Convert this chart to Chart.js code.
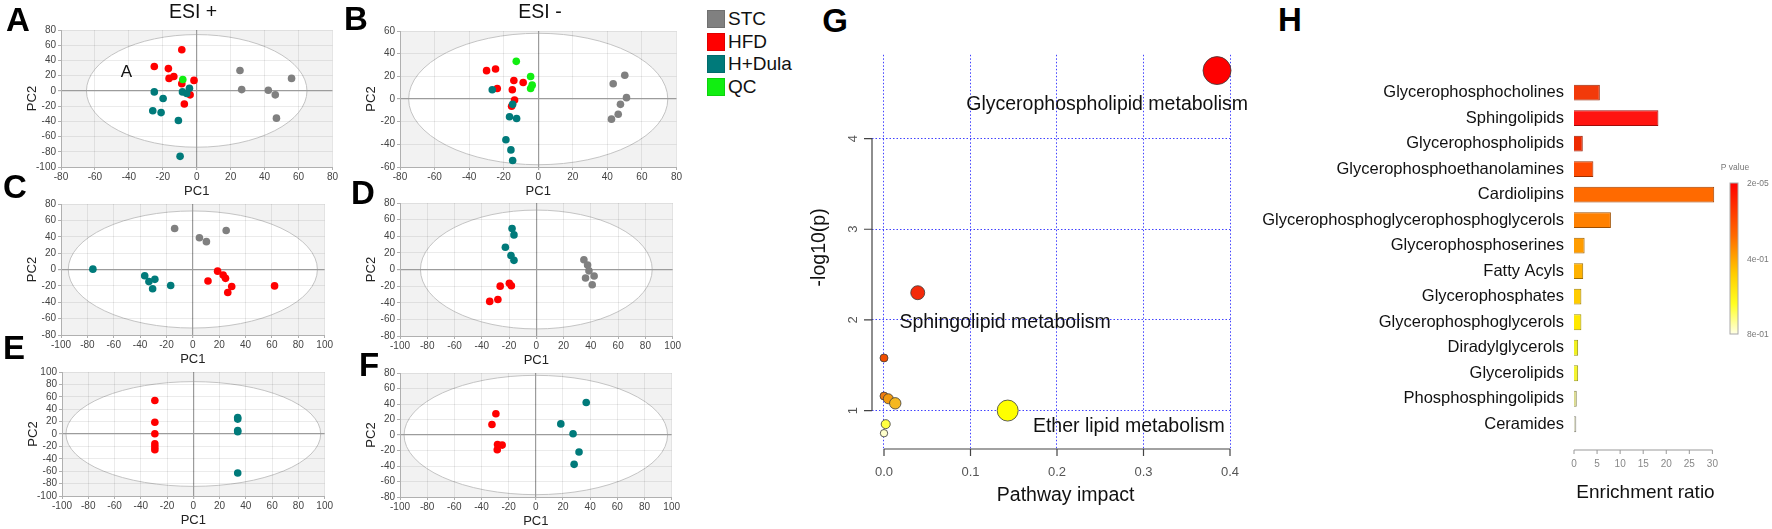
<!DOCTYPE html>
<html>
<head>
<meta charset="utf-8">
<script src="https://cdn.jsdelivr.net/npm/chart.js@4.4.1/dist/chart.umd.min.js"></script>
<style>
  body { margin: 0; background: #fff; width: 1772px; height: 529px; overflow: hidden; position: relative;
         font-family: "Liberation Sans", Arial, sans-serif; color: #111; }
  .t { position: absolute; transform: translate(-50%, -50%); line-height: 1; white-space: nowrap; }
  .letter { font-weight: bold; font-size: 33px; color: #000; }
  .leg { position: absolute; left: 707px; height: 18px; font-size: 19px; line-height: 18px; white-space: nowrap; }
  .leg span { display: inline-block; width: 18px; height: 18px; vertical-align: top; margin-right: 3px;
              box-shadow: inset 0 0 0 1px rgba(0,0,0,0.12); }
</style>
</head>
<body>
<script>
Chart.defaults.font.family = '"Liberation Sans", Arial, sans-serif';

// groups and colours (legend)
const groups = ["STC", "HFD", "H+Dula", "QC"];
const groupColors = ["#808080", "#ff0000", "#007a7a", "#11ee11"];

// A  ESI+  (PC1, PC2)
const aSTC  = [[25.5, 26.8], [26.5, 1.7], [42.2, 0.9], [46.3, -5.2], [47, -35.8], [55.9, 16.4]];
const aHFD  = [[-8.8, 54], [-25, 32], [-16.7, 29.3], [-16.3, 16.4], [-13.5, 19], [-8.8, 9.5], [-1.6, 13.8], [-3.9, -5.2], [-7.3, -17.3]];
const aDula = [[-25, -1.3], [-19.8, -10], [-25.9, -26], [-21, -28.5], [-10.8, -39], [-9.8, -86], [-8.4, -1.3], [-5.9, -3.5], [-4.3, 3.5]];
const aQC   = [[-8.2, 15]];
// B  ESI-
const bSTC  = [[50.1, 21], [43.4, 13.4], [51.1, 1.2], [47.6, -4.7], [46.3, -13.4], [42.4, -17.8]];
const bHFD  = [[-29.9, 25], [-24.7, 26.5], [-23.7, 9.3], [-14.1, 16.3], [-15, 8.2], [-8.7, 14.6], [-13.7, -0.9], [-15.4, -6.4]];
const bDula = [[-26.6, 8.2], [-14.8, -4.7], [-16.6, -15.7], [-12.5, -17.2], [-18.7, -35.9], [-15.8, -44.9], [-14.8, -54.2]];
const bQC   = [[-12.7, 33.2], [-4.4, 19.8], [-3.5, 12.2], [-4.4, 9.3]];
// C
const cSTC  = [[-13.8, 50], [5, 38.8], [10.3, 34], [25.3, 47.6]];
const cHFD  = [[11.5, -14], [18.8, -2], [23, -6.8], [24.8, -10.8], [29.5, -20.8], [26.5, -28], [62, -20]];
const cDula = [[-75.8, 0.4], [-36.5, -7.6], [-33.3, -14.8], [-28.8, -12], [-30.5, -23.6], [-16.8, -19.6]];
// D
const dSTC  = [[34.9, 11.8], [37.6, 5.5], [38.6, -1.6], [36.1, -10.2], [42.4, -7.8], [41, -18.4]];
const dHFD  = [[-26.5, -20], [-19.8, -16.5], [-18.3, -19.6], [-28.2, -36], [-34.2, -38.4]];
const dDula = [[-17.8, 49.4], [-16.4, 41.6], [-22.7, 26.7], [-18.6, 16.9], [-16.4, 11]];
// E
const eHFD  = [[-29.3, 54], [-29.3, 19], [-29.3, 0.5], [-29.3, -16], [-29.3, -21], [-29.3, -25.5]];
const eDula = [[33.8, 26.5], [33.8, 24], [33.8, 5.5], [33.8, 3.7], [33.8, -63]];
// F
const fHFD  = [[-29.4, 27.4], [-32.3, 13.5], [-28.2, -12.2], [-24.8, -13], [-28.4, -19]];
const fDula = [[37.1, 42], [18.4, 14.3], [27.4, 1.7], [31.8, -21.9], [28.2, -37.9]];

// axis ranges and Hotelling ellipse half-axes (PC1, PC2)
const aXRange = [-80, 80],   aYRange = [-100, 80], ellA = [65, 74];
const bXRange = [-80, 80],   bYRange = [-60, 60],  ellB = [75, 58];
const cXRange = [-100, 100], cYRange = [-80, 80],  ellC = [94.5, 71.5];
const dXRange = [-100, 100], dYRange = [-80, 80],  ellD = [85, 71.5];
const eXRange = [-100, 100], eYRange = [-100, 100], ellE = [97, 84.5];
const fXRange = [-100, 100], fYRange = [-80, 80],  ellF = [97, 77];

// G  pathway analysis
const gPathways = ["Glycerophospholipid metabolism", "Sphingolipid metabolism", "", "", "", "", "Ether lipid metabolism", "", ""];
const gImpact = [0.385, 0.039, 0.0, 0.0, 0.005, 0.013, 0.143, 0.002, 0.0];
const gLogP   = [4.75, 2.30, 1.58, 1.16, 1.13, 1.08, 1.00, 0.85, 0.75];
const gRadius = [14, 7, 4, 4, 5, 5.7, 10.5, 4.5, 3.7];
const gXTicks = [0, 0.1, 0.2, 0.3, 0.4];
const gYTicks = [1, 2, 3, 4];

// H  enrichment
const hClasses = ["Glycerophosphocholines", "Sphingolipids", "Glycerophospholipids", "Glycerophosphoethanolamines",
  "Cardiolipins", "Glycerophosphoglycerophosphoglycerols", "Glycerophosphoserines", "Fatty Acyls",
  "Glycerophosphates", "Glycerophosphoglycerols", "Diradylglycerols", "Glycerolipids",
  "Phosphosphingolipids", "Ceramides"];
const hRatio = [5.6, 18.3, 1.9, 4.2, 30.4, 8.0, 2.3, 2.0, 1.6, 1.6, 0.9, 0.9, 0.6, 0.5];
const hTicks = [0, 5, 10, 15, 20, 25, 30];
const pTicks = ["2e-05", "4e-01", "8e-01"];

// colours standing for p values
const gColors = ["#ff0000", "#f42a0a", "#f04d00", "#ee7a10", "#f29a10", "#f5b820", "#ffff00", "#ffff40", "#ffffcc"];
const hColors = ["#f23a0a", "#ff1410", "#ee2a00", "#ff4a00", "#ff6a00", "#ff8000", "#ff9c00", "#ffb200",
  "#ffcc00", "#ffe800", "#f0f020", "#f4f430", "#d9d98a", "#dcdcc8"];

function darken(hex, f) {
  const n = parseInt(hex.slice(1), 16);
  return `rgb(${Math.round((n >> 16) * f)},${Math.round(((n >> 8) & 255) * f)},${Math.round((n & 255) * f)})`;
}

function addCanvas(left, top, w, h) {
  const c = document.createElement("canvas");
  c.width = w; c.height = h;
  c.style.cssText = `position:absolute;left:${left}px;top:${top}px;width:${w}px;height:${h}px`;
  document.body.appendChild(c);
  return c;
}

function addText(txt, x, y, cls, css) {
  const d = document.createElement("div");
  d.className = "t " + (cls || "");
  d.textContent = txt;
  d.style.cssText = `left:${x}px;top:${y}px;` + (css || "");
  document.body.appendChild(d);
}

// grey score-plot background with white ellipse
const ellipsePlugin = {
  id: "ellipse",
  beforeDraw(chart, args, opts) {
    const { ctx, chartArea: a, scales: { x, y } } = chart;
    ctx.save();
    ctx.fillStyle = "#f2f2f2";
    ctx.fillRect(a.left, a.top, a.width, a.height);
    ctx.beginPath(); ctx.rect(a.left, a.top, a.width, a.height); ctx.clip();
    const cx = x.getPixelForValue(0), cy = y.getPixelForValue(0);
    const rx = Math.abs(x.getPixelForValue(opts.rx) - cx);
    const ry = Math.abs(y.getPixelForValue(opts.ry) - cy);
    ctx.beginPath(); ctx.ellipse(cx, cy, rx, ry, 0, 0, Math.PI * 2);
    ctx.fillStyle = "#fff"; ctx.fill();
    ctx.strokeStyle = "#c4c4c4"; ctx.lineWidth = 1; ctx.stroke();
    ctx.restore();
  }
};

function pcaChart(rect, xr, yr, ell, sets) {
  const [L, T, R, B] = rect;
  const cv = addCanvas(L - 36, T - 6, R - L + 42, B - T + 38);
  // first dataset is painted last, so put the top layer first
  const ds = sets.slice().reverse().map(([pts, g]) => ({
    label: groups[g],
    data: pts.map(p => ({ x: p[0], y: p[1] })),
    backgroundColor: groupColors[g], borderWidth: 0, pointRadius: 3.8, pointHoverRadius: 3.8
  }));
  const axis = (range, title, isX) => ({
    type: "linear", min: range[0], max: range[1],
    ticks: { stepSize: 20, font: { size: 10 }, color: "#444", padding: isX ? 1 : 2, maxRotation: 0, autoSkip: false },
    grid: { color: c => c.tick && c.tick.value === 0 ? "#9c9c9c" : "rgba(0,0,0,0.08)",
            lineWidth: c => c.tick && c.tick.value === 0 ? 1.2 : 1, tickLength: 3, tickColor: "#b0b0b0" },
    border: { color: "#b0b0b0" },
    title: { display: true, text: title, font: { size: 13 }, color: "#222", padding: 0 },
    afterFit: s => { if (isX) s.height = 32; else s.width = 36; }
  });
  new Chart(cv, {
    type: "scatter",
    data: { datasets: ds },
    options: {
      responsive: false, animation: false, events: [],
      layout: { padding: { top: 6, right: 6, left: 0, bottom: 0 } },
      plugins: { legend: { display: false }, tooltip: { enabled: false }, ellipse: { rx: ell[0], ry: ell[1] } },
      scales: { x: axis(xr, "PC1", true), y: axis(yr, "PC2", false) }
    },
    plugins: [ellipsePlugin]
  });
}

pcaChart([61, 28, 333, 167], aXRange, aYRange, ellA, [[aSTC, 0], [aHFD, 1], [aDula, 2], [aQC, 3]]);
pcaChart([400, 29, 677, 167], bXRange, bYRange, ellB, [[bSTC, 0], [bHFD, 1], [bDula, 2], [bQC, 3]]);
pcaChart([61, 202, 328, 335], cXRange, cYRange, ellC, [[cSTC, 0], [cHFD, 1], [cDula, 2]]);
pcaChart([400, 201, 676, 336], dXRange, dYRange, ellD, [[dSTC, 0], [dHFD, 1], [dDula, 2]]);
pcaChart([62, 370, 328, 496], eXRange, eYRange, ellE, [[eHFD, 1], [eDula, 2]]);
pcaChart([400, 371, 675, 497], fXRange, fYRange, ellF, [[fHFD, 1], [fDula, 2]]);

// legend
groups.forEach((g, i) => {
  const d = document.createElement("div");
  d.className = "leg";
  d.style.top = (10 + i * 22.7) + "px";
  d.innerHTML = `<span style="background:${groupColors[i]}"></span>${g}`;
  document.body.appendChild(d);
});

// G : R-style axes, labels
const gAxesPlugin = {
  id: "gAxes",
  afterDraw(chart) {
    const { ctx, chartArea: a, scales: { x, y } } = chart;
    ctx.save();
    ctx.strokeStyle = "#444"; ctx.lineWidth = 1.2;
    const yb = a.bottom, xl = a.left;
    ctx.beginPath();
    ctx.moveTo(x.getPixelForValue(gXTicks[0]), yb);
    ctx.lineTo(x.getPixelForValue(gXTicks[gXTicks.length - 1]), yb);
    gXTicks.forEach(v => { const px = x.getPixelForValue(v); ctx.moveTo(px, yb); ctx.lineTo(px, yb + 7); });
    ctx.moveTo(xl, y.getPixelForValue(gYTicks[0]));
    ctx.lineTo(xl, y.getPixelForValue(gYTicks[gYTicks.length - 1]));
    gYTicks.forEach(v => { const py = y.getPixelForValue(v); ctx.moveTo(xl, py); ctx.lineTo(xl - 8, py); });
    ctx.stroke();

    ctx.fillStyle = "#555"; ctx.font = '13px "Liberation Sans", Arial';
    ctx.textAlign = "center"; ctx.textBaseline = "middle";
    gXTicks.forEach(v => ctx.fillText(v.toFixed(1), x.getPixelForValue(v), yb + 23));
    gYTicks.forEach(v => {
      ctx.save(); ctx.translate(xl - 19, y.getPixelForValue(v)); ctx.rotate(-Math.PI / 2);
      ctx.fillText(String(v), 0, 0); ctx.restore();
    });

    ctx.fillStyle = "#111"; ctx.font = '19.5px "Liberation Sans", Arial';
    ctx.fillText("Pathway impact", x.getPixelForValue(0.21), yb + 47);
    ctx.save(); ctx.translate(xl - 52, y.getPixelForValue(2.8)); ctx.rotate(-Math.PI / 2);
    ctx.fillText("-log10(p)", 0, 0); ctx.restore();

    // pathway names, placed beside their bubbles
    const offs = [[-0.127, -0.38], [0.101, -0.33], [0.14, -0.174]];
    let k = 0;
    gPathways.forEach((name, i) => {
      if (!name) return;
      const o = offs[k++];
      ctx.fillText(name, x.getPixelForValue(gImpact[i] + o[0]), y.getPixelForValue(gLogP[i] + o[1]));
    });
    ctx.restore();
  }
};

const gCanvas = addCanvas(780, 40, 480, 489);
new Chart(gCanvas, {
  type: "bubble",
  data: { datasets: [{
    data: gImpact.map((v, i) => ({ x: v, y: gLogP[i], r: gRadius[i] })),
    backgroundColor: gColors, borderColor: "#3a3a3a", borderWidth: 0.8, clip: false
  }] },
  options: {
    responsive: false, animation: false, events: [],
    layout: { padding: { top: 9, right: 28, left: 0, bottom: 0 } },
    plugins: { legend: { display: false }, tooltip: { enabled: false } },
    scales: {
      x: { type: "linear", min: -0.01387, max: 0.40231,
           afterBuildTicks: s => { s.ticks = gXTicks.map(v => ({ value: v })); },
           ticks: { display: false },
           grid: { color: "rgba(45,45,255,0.9)", lineWidth: 1, drawTicks: false },
           border: { display: false, dash: [1.5, 2] },
           afterFit: s => { s.height = 80; } },
      y: { type: "linear", min: 0.576, max: 4.924,
           afterBuildTicks: s => { s.ticks = gYTicks.map(v => ({ value: v })); },
           ticks: { display: false },
           grid: { color: "rgba(45,45,255,0.9)", lineWidth: 1, drawTicks: false },
           border: { display: false, dash: [1.5, 2] },
           afterFit: s => { s.width = 92; } }
    }
  },
  plugins: [gAxesPlugin]
});

// H : axis line and p-value colour key
const hAxesPlugin = {
  id: "hAxes",
  afterDraw(chart) {
    const { ctx, chartArea: a, scales: { x } } = chart;
    ctx.save();
    const ya = a.bottom + 13;
    ctx.strokeStyle = "#999"; ctx.lineWidth = 1;
    ctx.beginPath();
    ctx.moveTo(x.getPixelForValue(hTicks[0]), ya);
    ctx.lineTo(x.getPixelForValue(hTicks[hTicks.length - 1]), ya);
    hTicks.forEach(v => { const px = x.getPixelForValue(v); ctx.moveTo(px, ya); ctx.lineTo(px, ya + 4); });
    ctx.stroke();
    ctx.fillStyle = "#888"; ctx.font = '10px "Liberation Sans", Arial';
    ctx.textAlign = "center"; ctx.textBaseline = "middle";
    hTicks.forEach(v => ctx.fillText(String(v), x.getPixelForValue(v), ya + 14));

    // colour key
    const kx = a.right + 13, kt = 123, kb = 274, kw = 8;
    const grad = ctx.createLinearGradient(0, kt, 0, kb);
    grad.addColorStop(0, "#ff0000"); grad.addColorStop(0.35, "#ff6a00");
    grad.addColorStop(0.6, "#ffcc00"); grad.addColorStop(0.8, "#ffff20"); grad.addColorStop(1, "#ffffe6");
    ctx.fillStyle = grad; ctx.fillRect(kx, kt, kw, kb - kt);
    ctx.strokeStyle = "#aaa"; ctx.strokeRect(kx, kt, kw, kb - kt);
    ctx.fillStyle = "#777"; ctx.font = '8.5px "Liberation Sans", Arial';
    ctx.fillText("P value", kx + 5, kt - 15);
    ctx.textAlign = "left";
    pTicks.forEach((t, i) => ctx.fillText(t, kx + 17, kt + 1 + i * (kb - kt) / (pTicks.length - 1)));
    ctx.restore();
  }
};

const hCanvas = addCanvas(1250, 60, 522, 469);
new Chart(hCanvas, {
  type: "bar",
  data: { labels: hClasses, datasets: [{
    data: hRatio, backgroundColor: hColors, borderColor: hColors.map(c => darken(c, 0.62)),
    borderWidth: 1, barPercentage: 0.62, categoryPercentage: 1
  }] },
  options: {
    indexAxis: "y", responsive: false, animation: false, events: [],
    layout: { padding: { top: 16, right: 55, left: 0, bottom: 0 } },
    plugins: { legend: { display: false }, tooltip: { enabled: false } },
    scales: {
      x: { type: "linear", min: 0, max: 31,
           afterBuildTicks: s => { s.ticks = hTicks.map(v => ({ value: v })); },
           ticks: { display: false }, grid: { display: false }, border: { display: false },
           title: { display: true, text: "Enrichment ratio", font: { size: 19 }, color: "#111", padding: { top: 0, bottom: 25 } },
           afterFit: s => { s.height = 92; } },
      y: { ticks: { autoSkip: false, font: { size: 16.5 }, color: "#111", padding: 10 },
           grid: { display: false, drawTicks: false }, border: { display: false },
           afterFit: s => { s.width = 324; } }
    }
  },
  plugins: [hAxesPlugin]
});

// panel letters and titles
[["A", 18, 19], ["B", 356, 18], ["C", 15, 186], ["D", 363, 192], ["E", 14, 347], ["F", 369, 364],
 ["G", 835, 20], ["H", 1290, 19]].forEach(([t, x, y]) => addText(t, x, y, "letter"));
addText("ESI +", 193, 12, "", "font-size:19.5px;");
addText("ESI -", 540, 12, "", "font-size:19.5px;");
addText("A", 126.5, 71, "", "font-size:17px;");
</script>
</body>
</html>
